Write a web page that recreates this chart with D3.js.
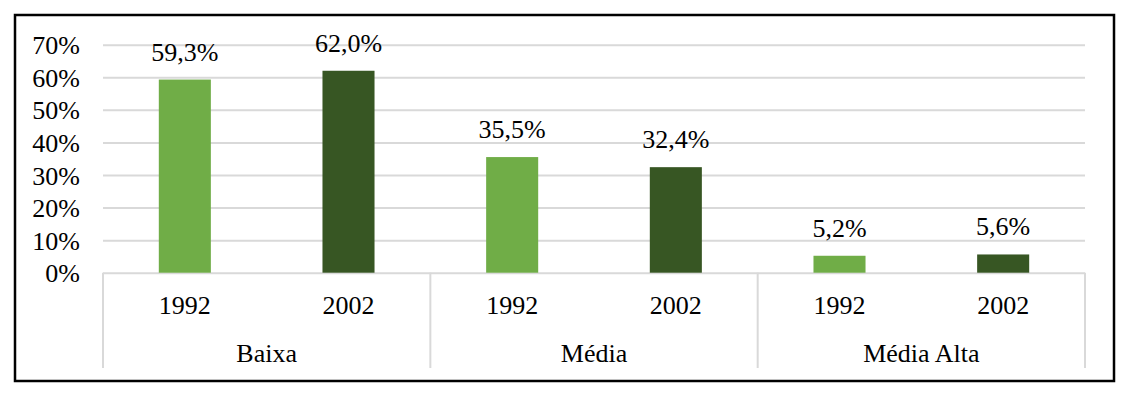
<!DOCTYPE html>
<html>
<head>
<meta charset="utf-8">
<script src="https://cdn.jsdelivr.net/npm/d3@7/dist/d3.min.js"></script>
<style>
  html, body { margin: 0; padding: 0; background: #fff; }
  svg { display: block; }
  text { font-family: "Liberation Serif", "Times New Roman", serif; fill: #000; }
</style>
</head>
<body>
<svg id="chart" width="1126" height="394"></svg>
<script>
const categories = ['Baixa', 'Média', 'Média Alta'];
const years = ['1992', '2002'];
const values1992 = [0.593, 0.355, 0.052];
const values2002 = [0.620, 0.324, 0.056];
const yTicks = [0, 0.1, 0.2, 0.3, 0.4, 0.5, 0.6, 0.7];
const colors = { '1992': '#70AD47', '2002': '#375623' };

const rows = categories.map((c, i) => ({
    cat: c,
    vals: [{ year: '1992', v: values1992[i] }, { year: '2002', v: values2002[i] }]
}));

const svg = d3.select('#chart');
const plot = { left: 103, right: 1085, top: 44.7, bottom: 272.7 };

// outer frame
svg.append('rect')
    .attr('x', 15).attr('y', 15)
    .attr('width', 1099).attr('height', 366)
    .attr('fill', 'none').attr('stroke', '#000').attr('stroke-width', 2.5);

const y = d3.scaleLinear().domain([0, 0.7]).range([plot.bottom, plot.top]);
const x0 = d3.scaleBand().domain(categories).range([plot.left, plot.right]);
const x1 = d3.scaleBand().domain(years).range([0, x0.bandwidth()])
    .paddingInner(0.682).paddingOuter(0.341);

// gridlines + y labels
const yAxis = svg.append('g')
    .attr('transform', `translate(${plot.left},0)`)
    .call(d3.axisLeft(y).tickValues(yTicks).tickFormat(d3.format('.0%'))
        .tickSize(-(plot.right - plot.left)).tickPadding(23));
yAxis.select('.domain').remove();
yAxis.selectAll('.tick line').attr('stroke', '#d9d9d9').attr('stroke-width', 2);
yAxis.selectAll('.tick text').attr('font-size', 26).attr('dy', '0.35em')
    .style('font-family', '"Liberation Serif", serif');

// category separators
const seps = categories.map(c => x0(c)).concat([plot.right]);
svg.append('g').selectAll('line').data(seps).join('line')
    .attr('x1', d => d).attr('x2', d => d)
    .attr('y1', plot.bottom).attr('y2', 368)
    .attr('stroke', '#d9d9d9').attr('stroke-width', 2);

// bars
const groups = svg.append('g').selectAll('g').data(rows).join('g')
    .attr('transform', d => `translate(${x0(d.cat)},0)`);

groups.selectAll('rect').data(d => d.vals).join('rect')
    .attr('x', d => x1(d.year))
    .attr('width', x1.bandwidth())
    .attr('y', d => y(d.v))
    .attr('height', d => plot.bottom - y(d.v))
    .attr('fill', d => colors[d.year]);

groups.selectAll('text.lbl').data(d => d.vals).join('text')
    .attr('class', 'lbl')
    .attr('x', d => x1(d.year) + x1.bandwidth() / 2)
    .attr('y', d => y(d.v) - 19)
    .attr('text-anchor', 'middle')
    .attr('font-size', 26)
    .text(d => d3.format('.1f')(d.v * 100).replace('.', ',') + '%');

// year labels under each group
groups.each(function() {
    const g = d3.select(this).append('g')
        .attr('transform', `translate(0,${plot.bottom})`)
        .call(d3.axisBottom(x1).tickSize(0).tickPadding(0));
    g.select('.domain').remove();
    g.selectAll('.tick text').attr('font-size', 26).attr('dy', 0).attr('y', 41)
        .style('font-family', '"Liberation Serif", serif');
});

// category labels
const xAxis = svg.append('g')
    .attr('transform', `translate(0,${plot.bottom})`)
    .call(d3.axisBottom(x0).tickSize(0).tickPadding(0));
xAxis.select('.domain').remove();
xAxis.selectAll('.tick text').attr('font-size', 26).attr('dy', 0).attr('y', 89)
    .style('font-family', '"Liberation Serif", serif');
</script>
</body>
</html>
